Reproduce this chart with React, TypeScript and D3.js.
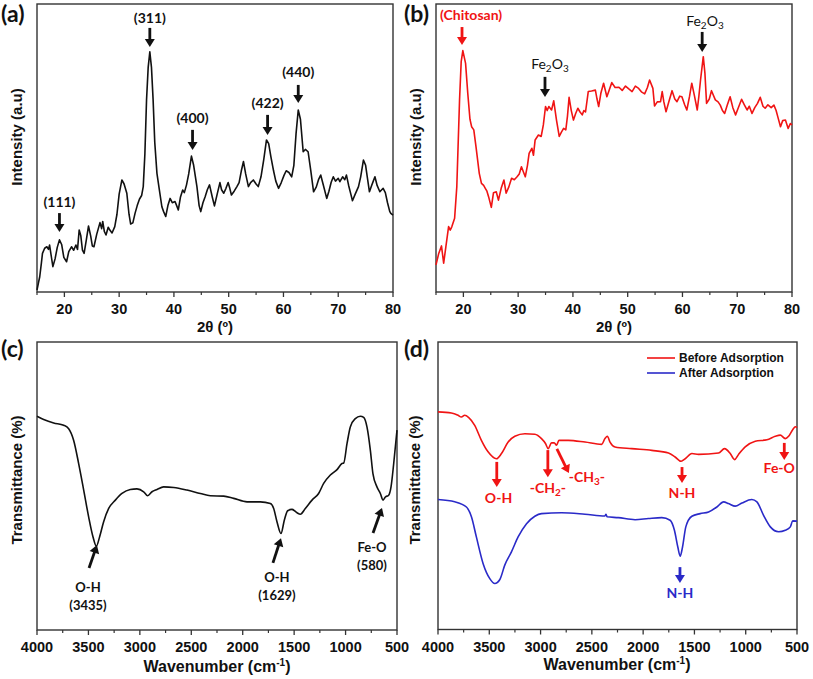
import React from "react";
import * as d3 from "d3";

// ---------- DATA ----------
// (a) XRD of nanoparticles: [2theta, intensity(0-100)]
const xrdNano: [number, number][] = [
  [15.0,0.7],[15.3,3.5],[15.5,5.3],[15.8,10],[16.0,13.4],[16.4,15.2],[16.8,15.7],[17.1,14.8],[17.3,16.3],[17.6,12.5],[17.9,8.8],[18.3,11.5],[18.7,15.5],[19.1,18.1],[19.5,16.5],[19.9,12.0],[20.4,10.5],[20.8,14.0],[21.3,15.7],[21.7,14.5],[22.1,16.3],[22.4,14.8],[22.7,21.5],[23.0,19.5],[23.3,14.5],[23.6,13.4],[24.0,18.0],[24.4,22.9],[24.8,19.5],[25.1,16.0],[25.4,15.7],[25.9,20.0],[26.5,24.1],[26.8,22.0],[27.0,24.5],[27.3,21.0],[27.6,19.8],[28.0,22.5],[28.3,21.5],[28.7,20.5],[29.2,22.7],[29.6,27.0],[30.0,34.0],[30.5,38.9],[30.9,37.5],[31.4,34.3],[31.8,27.0],[32.1,23.6],[32.5,24.0],[32.9,27.3],[33.3,30.0],[33.7,32.2],[34.1,33.5],[34.4,36.6],[34.7,48],[35.0,66.7],[35.3,78],[35.6,83.4],[35.9,78],[36.2,66.7],[36.5,52],[36.9,41.2],[37.3,36.0],[37.8,29.6],[38.1,28.0],[38.5,26.2],[38.9,30.0],[39.3,32.5],[39.7,31.0],[40.2,31.4],[40.5,30.0],[40.8,28.5],[41.2,33.0],[41.6,35.4],[41.9,34.5],[42.3,37.2],[42.7,41.0],[43.2,47.2],[43.6,44.0],[44.2,36.6],[44.6,30.0],[44.9,27.9],[45.3,31.0],[45.7,33.1],[46.1,35.5],[46.5,37.2],[47.0,33.0],[47.4,29.9],[47.9,34.0],[48.4,38.0],[48.7,35.5],[49.1,34.3],[49.5,36.0],[49.9,38.0],[50.2,36.0],[50.5,33.7],[51.0,35.0],[51.5,36.6],[51.9,38.0],[52.3,42.0],[52.7,45.3],[53.1,41.0],[53.6,36.6],[54.0,38.0],[54.5,38.9],[55.0,37.5],[55.4,36.6],[55.9,40.0],[56.4,46.0],[56.9,52.8],[57.3,51.5],[57.7,47.0],[58.2,42.0],[58.6,38.5],[59.1,36.0],[59.6,38.0],[60.1,40.5],[60.5,42.1],[61.0,41.5],[61.5,40.0],[61.9,44.0],[62.3,55.0],[62.7,63.2],[63.1,60.0],[63.6,48.7],[64.0,49.5],[64.5,48.7],[65.0,42.0],[65.5,34.8],[66.0,36.5],[66.4,39.0],[66.8,40.6],[67.3,37.0],[67.9,32.5],[68.3,35.0],[68.7,38.0],[69.1,40.0],[69.5,38.5],[70.0,39.5],[70.3,38.3],[70.8,40.0],[71.2,39.0],[71.5,40.6],[71.9,37.0],[72.3,34.0],[72.6,31.7],[73.1,34.0],[73.7,36.6],[74.1,40.0],[74.6,45.8],[75.0,44.0],[75.3,40.0],[75.7,34.8],[76.1,37.0],[76.4,38.5],[76.7,40.0],[77.1,37.0],[77.6,34.8],[78.2,36.0],[78.6,34.5],[79.0,31.0],[79.4,28.0],[79.6,27.3],[80.0,26.7]
];

// (b) XRD of chitosan composite
const xrdComposite: [number, number][] = [
  [15.0,9.4],[15.5,13.4],[16.0,16.0],[16.4,10.0],[16.8,15.7],[17.3,22.7],[17.6,21.5],[17.9,22.7],[18.4,25.6],[18.8,36.6],[19.3,66.7],[19.6,80.0],[19.9,83.8],[20.4,79.4],[20.8,69.0],[21.2,60.0],[21.5,57.4],[21.9,56.3],[22.3,50.5],[22.9,41.2],[23.3,37.7],[23.7,37.0],[24.0,36.0],[24.3,35.0],[24.6,33.1],[25.1,29.4],[25.5,34.5],[26.0,34.8],[26.4,31.9],[26.9,36.0],[27.4,38.9],[27.8,34.3],[28.3,36.5],[28.8,39.5],[29.3,39.0],[29.8,40.0],[30.2,41.0],[30.6,43.5],[31.0,41.5],[31.3,40.0],[31.7,44.0],[32.0,48.1],[32.5,49.9],[32.8,47.5],[33.1,52.8],[33.7,54.5],[34.2,54.0],[34.6,58.0],[35.0,64.4],[35.3,63.0],[35.6,64.4],[36.1,63.2],[36.5,66.4],[37.0,59.7],[37.5,54.0],[37.9,55.5],[38.3,56.8],[38.7,56.3],[39.0,61.0],[39.3,67.6],[39.7,63.0],[40.1,59.7],[40.5,62.0],[40.9,63.8],[41.3,62.5],[41.7,61.5],[42.0,63.0],[42.3,62.5],[42.8,69.6],[43.4,69.8],[44.1,70.1],[44.4,67.0],[44.7,64.4],[45.1,69.0],[45.6,72.5],[46.2,67.8],[46.6,70.0],[47.1,72.7],[47.7,71.0],[48.4,71.1],[49.0,70.0],[49.6,71.5],[50.2,70.5],[50.8,69.6],[51.4,71.5],[52.0,70.7],[52.5,69.5],[53.1,68.8],[53.6,71.0],[54.0,73.6],[54.6,70.7],[54.9,64.6],[55.4,66.0],[56.0,66.1],[56.3,69.6],[56.6,66.0],[57.0,62.6],[57.5,66.0],[58.1,69.9],[58.6,67.0],[59.0,66.1],[59.5,68.0],[59.9,67.8],[60.4,65.0],[60.8,63.2],[61.3,68.0],[61.7,72.5],[62.2,68.0],[62.7,63.2],[63.0,68.0],[63.3,73.6],[63.8,81.7],[64.1,76.0],[64.4,65.5],[64.9,67.0],[65.3,69.9],[66.0,66.7],[66.5,66.0],[66.9,64.9],[67.3,63.0],[67.7,62.0],[68.2,65.0],[68.7,67.8],[69.2,64.0],[69.7,61.5],[70.2,64.0],[70.8,66.9],[71.3,65.0],[71.8,63.2],[72.2,64.5],[72.7,62.0],[73.2,64.0],[73.7,65.5],[74.2,67.6],[74.7,64.5],[75.1,63.8],[75.6,65.0],[76.2,64.0],[76.7,64.9],[77.1,63.0],[77.4,60.9],[77.9,57.4],[78.3,59.5],[78.8,59.7],[79.3,56.8],[79.7,58.5],[80.0,58.0]
];

// (c) FTIR of nanocomposite: [wavenumber, transmittance(0-100)]
const ftirSample: [number, number][] = [
  [4000,74.2],[3935,73.1],[3838,71.9],[3741,71.1],[3692,69.9],[3644,65.9],[3595,57.8],[3546,48.6],[3498,39.3],[3456,32.4],[3423,29.1],[3391,32.4],[3352,37.6],[3303,42.2],[3238,45.1],[3174,47.4],[3093,48.8],[3028,49.0],[2963,48.0],[2924,46.6],[2882,48.0],[2833,48.8],[2769,49.7],[2671,49.5],[2542,48.6],[2412,47.4],[2315,46.6],[2185,46.5],[2088,45.7],[1958,44.5],[1829,44.5],[1731,43.9],[1699,42.2],[1667,37.6],[1628,33.5],[1595,38.2],[1563,41.4],[1521,41.9],[1472,40.7],[1440,40.2],[1391,42.2],[1326,45.1],[1262,47.4],[1213,50.9],[1148,53.8],[1083,55.7],[1035,57.8],[1018,58.0],[986,64.7],[954,70.5],[905,73.4],[857,74.2],[824,73.8],[792,70.5],[759,62.4],[734,54.3],[695,49.7],[662,47.4],[636,45.1],[613,46.2],[581,46.8],[558,49.7],[532,57.8],[500,69.4]
];

// (d) FTIR before / after adsorption
const ftirBefore: [number, number][] = [
  [4000,75.7],[3870,75.3],[3805,74.5],[3772,73.9],[3740,74.5],[3700,73.7],[3642,71.0],[3577,65.8],[3512,61.8],[3430,59.4],[3381,61.2],[3316,65.2],[3251,67.2],[3153,68.1],[3056,67.9],[2991,66.4],[2952,64.7],[2926,62.9],[2893,64.9],[2867,64.9],[2844,64.1],[2821,65.8],[2730,65.8],[2567,65.2],[2405,64.4],[2372,66.4],[2349,67.2],[2323,65.2],[2274,63.5],[2112,62.9],[1916,62.3],[1753,61.4],[1688,60.0],[1630,58.5],[1590,59.4],[1525,61.2],[1460,60.9],[1265,61.4],[1206,62.9],[1151,61.2],[1109,59.1],[1070,60.9],[1005,63.5],[907,65.5],[793,66.0],[712,67.2],[663,67.6],[614,66.4],[582,67.2],[542,69.5],[516,70.5],[500,70.2]
];
const ftirAfter: [number, number][] = [
  [4000,45.2],[3837,44.4],[3723,42.6],[3674,39.2],[3626,32.2],[3560,22.9],[3495,17.7],[3446,16.0],[3397,17.4],[3349,22.4],[3284,27.0],[3219,32.2],[3137,36.8],[3056,39.4],[2991,40.3],[2795,40.6],[2567,40.1],[2372,39.5],[2362,40.1],[2352,39.2],[2242,38.9],[2079,38.2],[1949,38.6],[1818,38.9],[1737,38.0],[1695,34.5],[1662,28.7],[1639,25.5],[1616,28.7],[1584,35.7],[1525,39.4],[1444,40.3],[1362,40.9],[1281,42.6],[1216,44.4],[1167,43.8],[1102,42.9],[1037,44.0],[940,45.2],[891,44.4],[826,39.7],[760,35.7],[679,34.0],[614,34.5],[565,35.7],[542,37.8],[500,37.7]
];

const xrdMajorTicks = [20, 30, 40, 50, 60, 70, 80];
const xrdMinorTicks = [15, 25, 35, 45, 55, 65, 75];
const ftirMajorTicks = [4000, 3500, 3000, 2500, 2000, 1500, 1000, 500];
const ftirMinorTicks = [3750, 3250, 2750, 2250, 1750, 1250, 750];

// annotations (a): [label, x, textValue, arrowFrom, arrowTo]
const annA: [string, number, number, number, number][] = [
  ["(111)", 19.1, 31.3, 27.4, 20.8],
  ["(311)", 35.6, 95.1, 91.7, 85.1],
  ["(400)", 43.4, 60.4, 56.3, 49.3],
  ["(422)", 57.1, 65.6, 61.5, 54.5],
  ["(440)", 62.7, 76.4, 71.9, 65.6],
];

// ---------- STYLE ----------
const FONT = "'Liberation Sans', Arial, sans-serif";
const FONT2 = "Lato, 'Open Sans', sans-serif";
const RED = "#f01414";
const BLUE = "#2a2ac8";
const FRAME = "#333";

type Box = { l: number; r: number; t: number; b: number };

function Arrow({ x1, y1, x2, y2, color, w = 2.8, head = 8, hw = 5 }: any) {
  const dx = x2 - x1, dy = y2 - y1;
  const L = Math.hypot(dx, dy);
  const ux = dx / L, uy = dy / L;
  const bx = x2 - ux * head, by = y2 - uy * head;
  const px = -uy, py = ux;
  return (
    <g>
      <line x1={x1} y1={y1} x2={bx + ux} y2={by + uy} stroke={color} strokeWidth={w} />
      <polygon points={`${x2},${y2} ${bx + px * hw},${by + py * hw} ${bx - px * hw},${by - py * hw}`} fill={color} />
    </g>
  );
}

function Frame({ box, x, majors, minors, fmt }: any) {
  return (
    <g>
      <rect x={box.l} y={box.t} width={box.r - box.l} height={box.b - box.t} fill="none" stroke={FRAME} strokeWidth={1.4} />
      {majors.map((t: number) => (
        <g key={"M" + t}>
          <line x1={x(t)} x2={x(t)} y1={box.b} y2={box.b + 5} stroke={FRAME} strokeWidth={1.3} />
          <text x={x(t)} y={box.b + 22} textAnchor="middle" fontFamily={FONT} fontWeight="bold" fontSize={14.5} fill="#111">{fmt(t)}</text>
        </g>
      ))}
      {minors.map((t: number) => (
        <line key={"m" + t} x1={x(t)} x2={x(t)} y1={box.b} y2={box.b + 3} stroke={FRAME} strokeWidth={1.2} />
      ))}
    </g>
  );
}

function YTitle({ x, y, text }: any) {
  return (
    <text transform={`translate(${x},${y}) rotate(-90)`} textAnchor="middle" fontFamily={FONT} fontWeight="bold" fontSize={15} fill="#111">{text}</text>
  );
}

function PanelLabel({ x, y, text }: any) {
  return <text x={x} y={y} fontFamily={FONT2} fontWeight="bold" fontSize={23} fill="#111">{text}</text>;
}

function Fe2O3({ x, y }: any) {
  return (
    <text x={x} y={y} textAnchor="middle" fontFamily={FONT2} fontSize={14} fill="#111">
      Fe<tspan fontSize={10} dy={3}>2</tspan><tspan dy={-3}>O</tspan><tspan fontSize={10} dy={3}>3</tspan>
    </text>
  );
}

export default function App() {
  const boxA: Box = { l: 37, r: 393, t: 4, b: 292 };
  const boxB: Box = { l: 436, r: 792, t: 4, b: 292 };
  const boxC: Box = { l: 37, r: 397, t: 342, b: 630 };
  const boxD: Box = { l: 438, r: 797, t: 342, b: 629.5 };

  const xA = d3.scaleLinear().domain([15, 80]).range([boxA.l, boxA.r]);
  const yA = d3.scaleLinear().domain([0, 100]).range([boxA.b, boxA.t]);
  const xB = d3.scaleLinear().domain([15, 80]).range([boxB.l, boxB.r]);
  const yB = d3.scaleLinear().domain([0, 100]).range([boxB.b, boxB.t]);
  const xC = d3.scaleLinear().domain([4000, 500]).range([boxC.l, boxC.r]);
  const yC = d3.scaleLinear().domain([0, 100]).range([boxC.b, boxC.t]);
  const xD = d3.scaleLinear().domain([4000, 500]).range([boxD.l, boxD.r]);
  const yD = d3.scaleLinear().domain([0, 100]).range([boxD.b, boxD.t]);

  const lineA = d3.line<[number, number]>().x(d => xA(d[0])).y(d => yA(d[1])).curve(d3.curveLinear);
  const lineB = d3.line<[number, number]>().x(d => xB(d[0])).y(d => yB(d[1])).curve(d3.curveLinear);
  const lineC = d3.line<[number, number]>().x(d => xC(d[0])).y(d => yC(d[1])).curve(d3.curveMonotoneX);
  const lineD = d3.line<[number, number]>().x(d => xD(d[0])).y(d => yD(d[1])).curve(d3.curveMonotoneX);

  const fmt = (v: number) => String(v);
  const annFont = { fontFamily: FONT2, fontWeight: "bold" as const };

  return (
    <svg width={813} height={679} style={{ position: "absolute", left: 0, top: 0, background: "#fff" }}>
      <rect width={813} height={679} fill="#fff" />
      {/* ---------- (a) ---------- */}
      <Frame box={boxA} x={xA} majors={xrdMajorTicks} minors={xrdMinorTicks} fmt={fmt} />
      <path d={lineA(xrdNano) || ""} fill="none" stroke="#111" strokeWidth={1.6} strokeLinejoin="round" />
      {annA.map(([t, xv, tv, a1, a2]) => (
        <g key={t}>
          <text x={xA(xv)} y={yA(tv) + 5} textAnchor="middle" {...annFont} fontSize={14} fill="#111">{t}</text>
          <Arrow x1={xA(xv)} y1={yA(a1)} x2={xA(xv)} y2={yA(a2)} color="#111" />
        </g>
      ))}
      <YTitle x={22} y={137} text="Intensity (a.u)" />
      <text x={215} y={332} textAnchor="middle" fontFamily={FONT} fontWeight="bold" fontSize={15} fill="#111">2θ (º)</text>
      <PanelLabel x={1} y={22} text="(a)" />

      {/* ---------- (b) ---------- */}
      <Frame box={boxB} x={xB} majors={xrdMajorTicks} minors={xrdMinorTicks} fmt={fmt} />
      <path d={lineB(xrdComposite) || ""} fill="none" stroke={RED} strokeWidth={1.6} strokeLinejoin="round" />
      <text x={xB(21.4)} y={yB(96.2) + 5} textAnchor="middle" {...annFont} fontSize={14} fill={RED}>(Chitosan)</text>
      <Arrow x1={xB(19.75)} y1={yB(92)} x2={xB(19.75)} y2={yB(85.8)} color={RED} />
      <Fe2O3 x={xB(35.8)} y={yB(78.8) + 4} />
      <Arrow x1={xB(34.9)} y1={yB(74.7)} x2={xB(34.9)} y2={yB(67.7)} color="#111" />
      <Fe2O3 x={xB(64.1)} y={yB(93.8) + 4} />
      <Arrow x1={xB(63.6)} y1={yB(90.3)} x2={xB(63.6)} y2={yB(83.3)} color="#111" />
      <YTitle x={421} y={137} text="Intensity (a.u)" />
      <text x={614} y={332} textAnchor="middle" fontFamily={FONT} fontWeight="bold" fontSize={15} fill="#111">2θ (º)</text>
      <PanelLabel x={404} y={22} text="(b)" />

      {/* ---------- (c) ---------- */}
      <Frame box={boxC} x={xC} majors={ftirMajorTicks} minors={ftirMinorTicks} fmt={fmt} />
      <path d={lineC(ftirSample) || ""} fill="none" stroke="#111" strokeWidth={1.6} />
      <Arrow x1={xC(3494)} y1={yC(21.5)} x2={xC(3417)} y2={yC(29.5)} color="#111" />
      <text x={xC(3504)} y={yC(14.9) + 5} textAnchor="middle" {...annFont} fontSize={13} fill="#111">O-H</text>
      <text x={xC(3504)} y={yC(8.7) + 5} textAnchor="middle" {...annFont} fontSize={13} fill="#111">(3435)</text>
      <Arrow x1={xC(1706)} y1={yC(23.3)} x2={xC(1628)} y2={yC(31.9)} color="#111" />
      <text x={xC(1667)} y={yC(18.4) + 5} textAnchor="middle" {...annFont} fontSize={13} fill="#111">O-H</text>
      <text x={xC(1667)} y={yC(12.2) + 5} textAnchor="middle" {...annFont} fontSize={13} fill="#111">(1629)</text>
      <Arrow x1={xC(733)} y1={yC(33.7)} x2={xC(646)} y2={yC(42.4)} color="#111" />
      <text x={xC(743)} y={yC(28.8) + 5} textAnchor="middle" {...annFont} fontSize={13} fill="#111">Fe-O</text>
      <text x={xC(743)} y={yC(22.6) + 5} textAnchor="middle" {...annFont} fontSize={13} fill="#111">(580)</text>
      <YTitle x={22} y={480} text="Transmittance (%)" />
      <text x={217} y={672} textAnchor="middle" fontFamily={FONT} fontWeight="bold" fontSize={16} fill="#111">
        Wavenumber (cm<tspan fontSize={10} dy={-6}>-1</tspan><tspan dy={6}>)</tspan>
      </text>
      <PanelLabel x={1} y={357} text="(c)" />

      {/* ---------- (d) ---------- */}
      <Frame box={boxD} x={xD} majors={ftirMajorTicks} minors={ftirMinorTicks} fmt={fmt} />
      <path d={lineD(ftirBefore) || ""} fill="none" stroke={RED} strokeWidth={1.6} />
      <path d={lineD(ftirAfter) || ""} fill="none" stroke={BLUE} strokeWidth={1.6} />
      <Arrow x1={xD(3427)} y1={yD(58.3)} x2={xD(3427)} y2={yD(49.6)} color={RED} />
      <text x={xD(3410)} y={yD(45.7) + 5} textAnchor="middle" {...annFont} fontSize={14} fill={RED}>O-H</text>
      <Arrow x1={xD(2929)} y1={yD(62.4)} x2={xD(2929)} y2={yD(53.0)} color={RED} />
      <text x={xD(2929)} y={yD(49.2) + 5} textAnchor="middle" {...annFont} fontSize={14} fill={RED}>
        -CH<tspan fontSize={10} dy={3}>2</tspan><tspan dy={-3}>-</tspan>
      </text>
      <Arrow x1={xD(2841)} y1={yD(62.8)} x2={xD(2724)} y2={yD(54.4)} color={RED} />
      <text x={xD(2548)} y={yD(53.0) + 5} textAnchor="middle" {...annFont} fontSize={14} fill={RED}>
        -CH<tspan fontSize={10} dy={3}>3</tspan><tspan dy={-3}>-</tspan>
      </text>
      <Arrow x1={xD(1621)} y1={yD(56.5)} x2={xD(1621)} y2={yD(51.0)} color={RED} />
      <text x={xD(1621)} y={yD(47.5) + 5} textAnchor="middle" {...annFont} fontSize={14} fill={RED}>N-H</text>
      <Arrow x1={xD(624)} y1={yD(64.9)} x2={xD(624)} y2={yD(59.0)} color={RED} />
      <text x={xD(673)} y={yD(56.2) + 5} textAnchor="middle" {...annFont} fontSize={14} fill={RED}>Fe-O</text>
      <Arrow x1={xD(1641)} y1={yD(21.7)} x2={xD(1641)} y2={yD(16.2)} color={BLUE} />
      <text x={xD(1641)} y={yD(12.7) + 5} textAnchor="middle" {...annFont} fontSize={14} fill={BLUE}>N-H</text>
      {/* legend */}
      <line x1={647} x2={675} y1={358} y2={358} stroke={RED} strokeWidth={1.6} />
      <text x={679} y={362} fontFamily={FONT} fontWeight="bold" fontSize={12} fill="#111">Before Adsorption</text>
      <line x1={647} x2={675} y1={373} y2={373} stroke={BLUE} strokeWidth={1.6} />
      <text x={679} y={377} fontFamily={FONT} fontWeight="bold" fontSize={12} fill="#111">After Adsorption</text>
      <YTitle x={420} y={480} text="Transmittance (%)" />
      <text x={617} y={670} textAnchor="middle" fontFamily={FONT} fontWeight="bold" fontSize={16} fill="#111">
        Wavenumber (cm<tspan fontSize={10} dy={-6}>-1</tspan><tspan dy={6}>)</tspan>
      </text>
      <PanelLabel x={404} y={357} text="(d)" />
    </svg>
  );
}
